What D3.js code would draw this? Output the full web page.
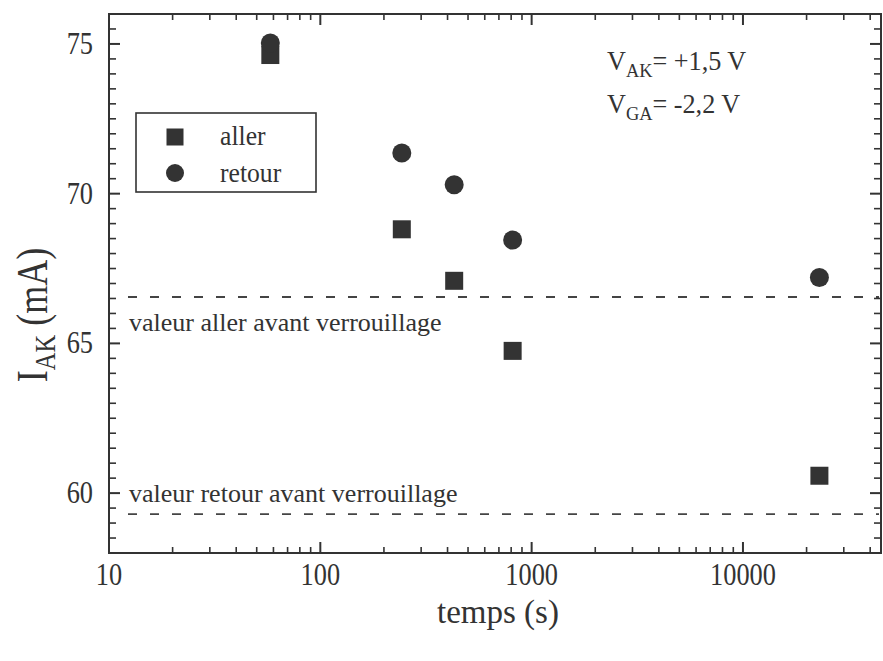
<!DOCTYPE html>
<html><head><meta charset="utf-8">
<script src="https://cdn.jsdelivr.net/npm/d3@7"></script>
<style>html,body{margin:0;padding:0;background:#fff}svg{display:block}</style>
</head><body>
<script>
// ---- data ----
const timeS = [58, 243, 430, 813, 23000];
const allerIAK = [74.63, 68.81, 67.09, 64.75, 60.58];
const retourIAK = [75.03, 71.36, 70.30, 68.45, 67.20];
const refLevels = [66.55, 59.30];
const refLabels = ["valeur aller avant verrouillage", "valeur retour avant verrouillage"];
const refStart = 12.3;
const xDomain = [10, 45000];
const yDomain = [58, 76];
const xTickLabels = [10, 100, 1000, 10000];
const yTickLabels = [60, 65, 70, 75];
const legendLabels = ["aller", "retour"];

const W = 883, H = 661;
const L = 109, R = 881, T = 14, B = 553;
const ink = "#333";
const serif = "'Liberation Serif','Times New Roman',serif";

const svg = d3.select("body").append("svg").attr("width", W).attr("height", H);
const x = d3.scaleLog().domain(xDomain).range([L, R]);
const y = d3.scaleLinear().domain(yDomain).range([B, T]);

// condensed text helper
function txt(g, px, py, s, size, anchor, sx) {
  return g.append("text")
    .attr("transform", `translate(${px},${py}) scale(${sx||1},1)`)
    .attr("font-family", serif).attr("font-size", size)
    .attr("text-anchor", anchor || "start").attr("fill", ink).text(s);
}

// dashed reference lines
refLevels.forEach(v => {
  svg.append("line").attr("x1", x(refStart)).attr("x2", x(xDomain[1]) - 2)
    .attr("y1", y(v)).attr("y2", y(v))
    .attr("stroke", "#444").attr("stroke-width", 1.8).attr("stroke-dasharray", "9,13");
});

// frame
svg.append("rect").attr("x", L).attr("y", T).attr("width", R - L).attr("height", B - T)
  .attr("fill", "none").attr("stroke", ink).attr("stroke-width", 2);

// x ticks (log)
const xt = [];
for (let d = 10; d <= 10000; d *= 10) for (let k = 1; k <= 9; k++) { const v = d * k; if (v >= xDomain[0] && v <= xDomain[1]) xt.push({v, major: k === 1}); }
xt.forEach(t => {
  const len = t.major ? 11 : 6;
  svg.append("line").attr("x1", x(t.v)).attr("x2", x(t.v)).attr("y1", B).attr("y2", B - len).attr("stroke", ink).attr("stroke-width", t.major ? 2 : 1.6);
  svg.append("line").attr("x1", x(t.v)).attr("x2", x(t.v)).attr("y1", T).attr("y2", T + len).attr("stroke", ink).attr("stroke-width", t.major ? 2 : 1.6);
});
// y ticks
const yt = d3.range(yDomain[0], yDomain[1] + 0.001, 0.5);
yt.forEach(v => {
  const major = Math.abs(v % 5) < 1e-6;
  const len = major ? 11 : 7;
  svg.append("line").attr("x1", L).attr("x2", L + len).attr("y1", y(v)).attr("y2", y(v)).attr("stroke", ink).attr("stroke-width", major ? 2 : 1.6);
  svg.append("line").attr("x1", R).attr("x2", R - len).attr("y1", y(v)).attr("y2", y(v)).attr("stroke", ink).attr("stroke-width", major ? 2 : 1.6);
});

// tick labels
xTickLabels.forEach(v => txt(svg, x(v), 585, String(v), 31, "middle", 0.85));
yTickLabels.forEach(v => txt(svg, 93, y(v) + 10, String(v), 31, "end", 0.85));

// axis titles
txt(svg, 498, 623, "temps (s)", 33, "middle", 1.0);
const yt1 = svg.append("text").attr("transform", "translate(47,315) rotate(-90) scale(0.82,1)")
  .attr("font-family", serif).attr("font-size", 44).attr("text-anchor", "middle").attr("fill", ink);
yt1.append("tspan").text("I");
yt1.append("tspan").attr("font-size", 30).attr("dy", 8).text("AK");
yt1.append("tspan").attr("dy", -8).text(" (mA)");

// reference labels
txt(svg, 129, 331, refLabels[0], 26, "start", 1);
txt(svg, 129, 502, refLabels[1], 26, "start", 1);

// markers
const sq = 18;
svg.append("g").selectAll("rect").data(timeS).join("rect")
  .attr("x", (d) => x(d) - sq / 2).attr("y", (d, i) => y(allerIAK[i]) - sq / 2)
  .attr("width", sq).attr("height", sq).attr("fill", ink);
svg.append("g").selectAll("circle").data(timeS).join("circle")
  .attr("cx", d => x(d)).attr("cy", (d, i) => y(retourIAK[i])).attr("r", 9.5).attr("fill", ink);

// legend
svg.append("rect").attr("x", 136).attr("y", 113).attr("width", 180).attr("height", 79)
  .attr("fill", "#fff").attr("stroke", ink).attr("stroke-width", 1.6);
svg.append("rect").attr("x", 175 - 8.5).attr("y", 137 - 8.5).attr("width", 17).attr("height", 17).attr("fill", ink);
svg.append("circle").attr("cx", 175).attr("cy", 173).attr("r", 9).attr("fill", ink);
txt(svg, 220, 145, legendLabels[0], 27, "start", 0.95);
txt(svg, 220, 182, legendLabels[1], 27, "start", 0.95);

// annotation
function annot(py, sub, rest) {
  const t = svg.append("text").attr("transform", `translate(607,${py}) scale(0.97,1)`)
    .attr("font-family", serif).attr("font-size", 27).attr("fill", ink);
  t.append("tspan").text("V");
  t.append("tspan").attr("font-size", 19).attr("dy", 7).text(sub);
  t.append("tspan").attr("dy", -7).text(rest);
}
annot(70, "AK", "= +1,5 V");
annot(113, "GA", "= -2,2 V");
</script>
</body></html>
